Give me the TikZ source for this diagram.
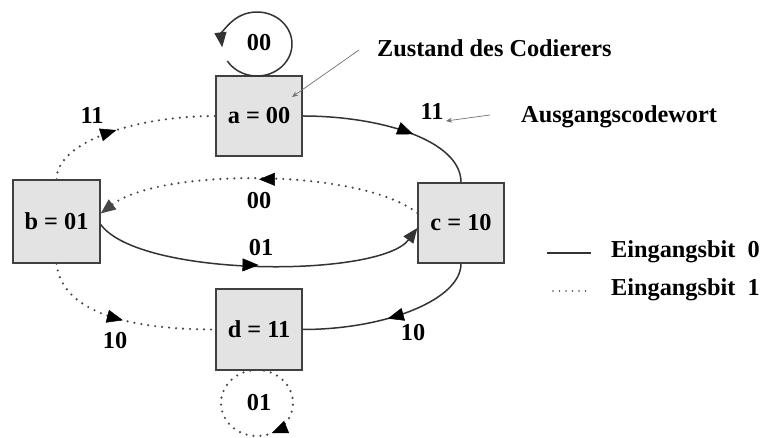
\documentclass[tikz,border=0pt]{standalone}
\usepackage{fontspec}
\setmainfont{Liberation Serif}
\usetikzlibrary{arrows.meta,decorations.markings}
\tikzset{
  state/.style={draw=black!75, line width=1.3pt, fill=black!11, minimum width=86pt, minimum height=80pt, inner sep=0pt, font=\fontsize{24.3}{26}\selectfont\bfseries},
  lbl/.style={inner sep=0pt, font=\fontsize{24.3}{26}\selectfont\bfseries},
  zero/.style={draw=black!80, line width=1.5pt},
  one/.style={draw=black!72, line width=2.4pt, line cap=round, dash pattern=on 0pt off 7pt},
  midarrow/.style={postaction={decorate}, decoration={markings, mark=at position #1 with {\arrow[black,solid,line width=0.5pt]{Triangle[length=16pt,width=13pt]}}}},
  endtip/.style={-{Triangle[length=15pt,width=12pt]}},
  note/.style={draw=black!55, line width=0.7pt, -{Stealth[length=6pt,width=5pt]}}
}
\begin{document}
\begin{tikzpicture}[x=1pt,y=1pt]
\useasboundingbox[fill=white] (0,0) rectangle (763,438);
% states
\node[state] (a) at (259,322) {a = 00};
\node[state, minimum width=87pt, minimum height=83pt] (b) at (56.5,216.5) {b = 01};
\node[state] (c) at (461,215) {c = 10};
\node[state, minimum height=81pt] (d) at (259,108.5) {d = 11};
% self loop a (solid)
\coordinate (la) at (257,394);
\draw[zero, endtip] ([shift={(212:35 and 32)}]la) arc[start angle=212, end angle=546, x radius=35, y radius=32];
\node[lbl] (l00a) at (259,395) {00};
% self loop d (dotted)
\coordinate (ld) at (257,35);
\draw[one, midarrow=0.43] ([shift={(90:36 and 33)}]ld) arc[start angle=90, end angle=-270, x radius=36, y radius=33];
\node[lbl] (l01d) at (259,35) {01};
% a -> c (solid)
\draw[zero, midarrow=0.61] (a.east) .. controls (380,322) and (461,298) .. (c.north);
% b -> a (dotted)
\draw[one, midarrow=0.45] (b.north) .. controls (57,298) and (140,322) .. (a.west);
% c -> b (dotted)
\draw[one, midarrow=0.5, endtip] ([yshift=10pt]c.west) .. controls (360,270) and (160,270) .. ([yshift=8pt]b.east);
% b -> c (solid)
\draw[zero, midarrow=0.5, endtip] ([yshift=-3pt]b.east) .. controls (140,160) and (380,160) .. ([yshift=-5pt]c.west);
% b -> d (dotted)
\draw[one, midarrow=0.5] (b.south) .. controls (62,125) and (130,108.5) .. (d.west);
% c -> d (solid)
\draw[zero, midarrow=0.53] (c.south) .. controls (461,138) and (385,108.5) .. (d.east);
% edge labels
\node[lbl] (l11a) at (92,323) {11};
\node[lbl] (l11c) at (432,327) {11};
\node[lbl] (l00) at (259,237) {00};
\node[lbl] (l01) at (261,190) {01};
\node[lbl] (l10b) at (115,97) {10};
\node[lbl] (l10c) at (413,105) {10};
% annotations
\node[lbl, anchor=base west] (zust) at (377,381) {Zustand des Codierers};
\node[lbl, anchor=base west] (ausg) at (521,315) {Ausgangscodewort};
\coordinate (z1) at (359,388);
\coordinate (z2) at (292,341);
\draw[note] (z1) -- (z2);
\coordinate (u1) at (490,323);
\coordinate (u2) at (446,317);
\draw[note] (u1) -- (u2);
% legend
\coordinate (s1) at (547,185);
\coordinate (s2) at (591,185);
\draw[zero, line width=1.3pt] (s1) -- (s2);
\node[lbl, anchor=base west] (leg0) at (611,180) {Eingangsbit\enspace 0};
\coordinate (t1) at (553,147);
\coordinate (t2) at (591,147);
\draw[one, line width=1.6pt, dash pattern=on 0pt off 6.5pt] (t1) -- (t2);
\node[lbl, anchor=base west] (leg1) at (611,142) {Eingangsbit\enspace 1};
\end{tikzpicture}
\end{document}
